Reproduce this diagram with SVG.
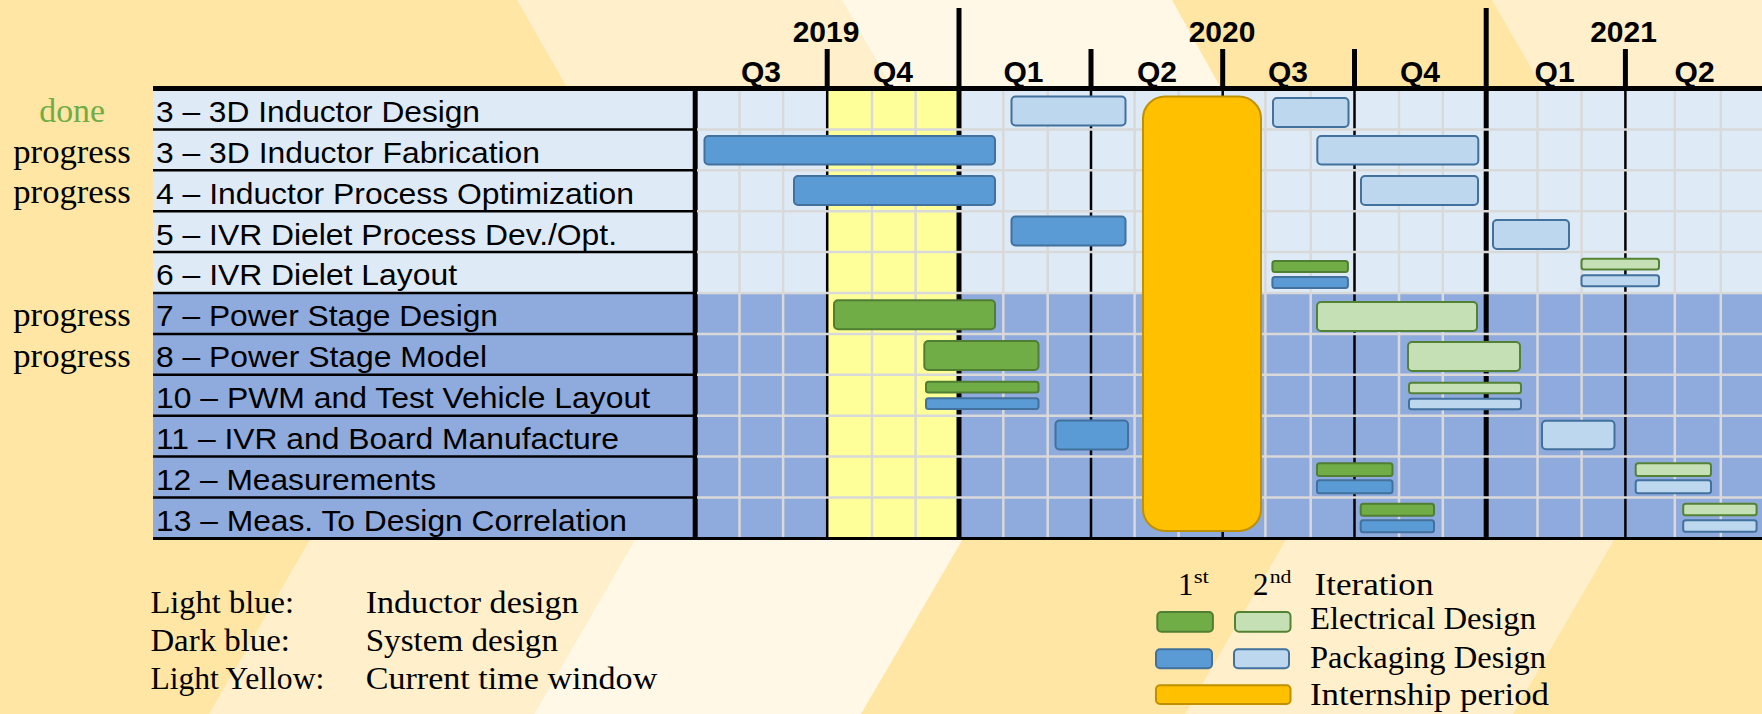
<svg xmlns="http://www.w3.org/2000/svg" width="1762" height="714" viewBox="0 0 1762 714">
<defs>
<style>
.lbl{font-family:"Liberation Sans",Arial,sans-serif;font-size:29px;fill:#000}
.hdr{font-family:"Liberation Sans",Arial,sans-serif;font-weight:bold;font-size:30px;fill:#000;text-anchor:middle}
.st{font-family:"Liberation Serif","Times New Roman",serif;font-size:34px;fill:#000}
.leg{font-family:"Liberation Serif","Times New Roman",serif;font-size:31px;fill:#000}
.b1e{fill:#70AD47;stroke:#507E32;stroke-width:2}
.b2e{fill:#C5E0B4;stroke:#548235;stroke-width:2}
.b1p{fill:#5B9BD5;stroke:#41719C;stroke-width:2}
.b2p{fill:#BDD7EE;stroke:#41719C;stroke-width:2}
.intern{fill:#FFC000;stroke:#BF9000;stroke-width:2}
.gv{stroke:#D9D9D9;stroke-width:2.5}
.gh{stroke:#D9D9D9;stroke-width:2.5}
.bq{stroke:#000;stroke-width:2.5}
.bqh{stroke:#000;stroke-width:5}
.by{stroke:#000;stroke-width:5}
.bs{stroke:#000;stroke-width:2.5}
</style>
</defs>

<g id="background">
<rect x="0" y="0" width="1762" height="714" fill="#FFE6A4"/>
<polygon points="517,0 842,0 894.5,92 534,714 209,714 569.5,92" fill="#FFEFCA"/>
<polygon points="842,0 1172,0 1223,92 861,714 534,714 894.5,92" fill="#FFF8E7"/>
<polygon points="1492,0 1821,0 1874,92 1513,714 1185,714 1545,92" fill="#FFEFCA"/>
</g>

<g id="table-fill">
<rect x="153" y="88.5" width="1609" height="204.5" fill="#DEEBF7"/>
<rect x="153" y="293" width="1609" height="245.4" fill="#8FAADC"/>
<rect x="827.2" y="88.5" width="131.8" height="449.9" fill="#FFFF99"/>
</g>

<g id="grid-lines">
<g class="gv">
<line x1="739.5" y1="90" x2="739.5" y2="538"/>
<line x1="783.1" y1="90" x2="783.1" y2="538"/>
<line x1="872" y1="90" x2="872" y2="538"/>
<line x1="915.6" y1="90" x2="915.6" y2="538"/>
<line x1="1003.3" y1="90" x2="1003.3" y2="538"/>
<line x1="1047.7" y1="90" x2="1047.7" y2="538"/>
<line x1="1134.6" y1="90" x2="1134.6" y2="538"/>
<line x1="1178.6" y1="90" x2="1178.6" y2="538"/>
<line x1="1265.4" y1="90" x2="1265.4" y2="538"/>
<line x1="1310.7" y1="90" x2="1310.7" y2="538"/>
<line x1="1399" y1="90" x2="1399" y2="538"/>
<line x1="1442.8" y1="90" x2="1442.8" y2="538"/>
<line x1="1537.5" y1="90" x2="1537.5" y2="538"/>
<line x1="1581.6" y1="90" x2="1581.6" y2="538"/>
<line x1="1674.8" y1="90" x2="1674.8" y2="538"/>
<line x1="1720.8" y1="90" x2="1720.8" y2="538"/>
</g>
<g class="bq">
<line x1="827.2" y1="88" x2="827.2" y2="538"/>
<line x1="1091" y1="88" x2="1091" y2="538"/>
<line x1="1222.7" y1="88" x2="1222.7" y2="538"/>
<line x1="1354.5" y1="88" x2="1354.5" y2="538"/>
<line x1="1625.4" y1="88" x2="1625.4" y2="538"/>
</g>
<g class="bqh">
<line x1="827.2" y1="49" x2="827.2" y2="89"/>
<line x1="1091" y1="49" x2="1091" y2="89"/>
<line x1="1222.7" y1="49" x2="1222.7" y2="89"/>
<line x1="1354.5" y1="49" x2="1354.5" y2="89"/>
<line x1="1625.4" y1="49" x2="1625.4" y2="89"/>
</g>
<g class="by">
<line x1="959" y1="8" x2="959" y2="539"/>
<line x1="1486.2" y1="8" x2="1486.2" y2="539"/>
<line x1="695.2" y1="86" x2="695.2" y2="540"/>
</g>
<g class="gh">
<line x1="697" y1="129.4" x2="1762" y2="129.4"/>
<line x1="697" y1="170.3" x2="1762" y2="170.3"/>
<line x1="697" y1="211.2" x2="1762" y2="211.2"/>
<line x1="697" y1="252.1" x2="1762" y2="252.1"/>
<line x1="697" y1="293" x2="1762" y2="293"/>
<line x1="697" y1="333.9" x2="1762" y2="333.9"/>
<line x1="697" y1="374.8" x2="1762" y2="374.8"/>
<line x1="697" y1="415.7" x2="1762" y2="415.7"/>
<line x1="697" y1="456.6" x2="1762" y2="456.6"/>
<line x1="697" y1="497.5" x2="1762" y2="497.5"/>
</g>
<g class="bs">
<line x1="153" y1="129.4" x2="694" y2="129.4"/>
<line x1="153" y1="170.3" x2="694" y2="170.3"/>
<line x1="153" y1="211.2" x2="694" y2="211.2"/>
<line x1="153" y1="252.1" x2="694" y2="252.1"/>
<line x1="153" y1="293" x2="694" y2="293"/>
<line x1="153" y1="333.9" x2="694" y2="333.9"/>
<line x1="153" y1="374.8" x2="694" y2="374.8"/>
<line x1="153" y1="415.7" x2="694" y2="415.7"/>
<line x1="153" y1="456.6" x2="694" y2="456.6"/>
<line x1="153" y1="497.5" x2="694" y2="497.5"/>
</g>
<rect x="153" y="86" width="1609" height="5" fill="#000"/>
<rect x="153" y="537" width="1609" height="3" fill="#000"/>
</g>

<g id="header">
<text class="hdr" x="826" y="41.7">2019</text>
<text class="hdr" x="1222" y="41.7">2020</text>
<text class="hdr" x="1623.5" y="41.7">2021</text>
<text class="hdr" x="761" y="81.7">Q3</text>
<text class="hdr" x="893" y="81.7">Q4</text>
<text class="hdr" x="1023.4" y="81.7">Q1</text>
<text class="hdr" x="1157" y="81.7">Q2</text>
<text class="hdr" x="1288" y="81.7">Q3</text>
<text class="hdr" x="1420" y="81.7">Q4</text>
<text class="hdr" x="1554.6" y="81.7">Q1</text>
<text class="hdr" x="1694.6" y="81.7">Q2</text>
</g>

<g id="internship">
<rect class="intern" x="1143" y="96.5" width="118" height="434.5" rx="22"/>
</g>

<g id="row-1">
<text class="st" x="39.3" y="122.3" textLength="65.7" lengthAdjust="spacingAndGlyphs" fill="#70AD47" style="fill:#70AD47">done</text>
<text class="lbl" x="156" y="121.7" textLength="324" lengthAdjust="spacingAndGlyphs">3 – 3D Inductor Design</text>
<rect class="b2p" x="1011.5" y="96.5" width="114" height="29" rx="4"/>
<rect class="b2p" x="1273" y="98" width="75.5" height="29" rx="4"/>
</g>

<g id="row-2">
<text class="st" x="13.3" y="163.3" textLength="117.4" lengthAdjust="spacingAndGlyphs">progress</text>
<text class="lbl" x="156" y="162.5" textLength="384" lengthAdjust="spacingAndGlyphs">3 – 3D Inductor Fabrication</text>
<rect class="b1p" x="704.5" y="136" width="290.5" height="28.5" rx="4"/>
<rect class="b2p" x="1317.3" y="136" width="161" height="28.5" rx="4"/>
</g>

<g id="row-3">
<text class="st" x="13.3" y="203" textLength="117.4" lengthAdjust="spacingAndGlyphs">progress</text>
<text class="lbl" x="156" y="203.6" textLength="478" lengthAdjust="spacingAndGlyphs">4 – Inductor Process Optimization</text>
<rect class="b1p" x="794" y="176" width="201" height="29" rx="4"/>
<rect class="b2p" x="1361" y="176" width="117" height="29" rx="4"/>
</g>

<g id="row-4">
<text class="lbl" x="156" y="244.5" textLength="461" lengthAdjust="spacingAndGlyphs">5 – IVR Dielet Process Dev./Opt.</text>
<rect class="b1p" x="1011.5" y="216.5" width="114" height="29" rx="4"/>
<rect class="b2p" x="1493" y="220" width="76" height="29" rx="4"/>
</g>

<g id="row-5">
<text class="lbl" x="156" y="285.4" textLength="301" lengthAdjust="spacingAndGlyphs">6 – IVR Dielet Layout</text>
<rect class="b1e" x="1272.4" y="261" width="75.5" height="11" rx="2.5"/>
<rect class="b1p" x="1272.4" y="277" width="75.5" height="11" rx="2.5"/>
<rect class="b2e" x="1581.5" y="258.7" width="77.5" height="10.8" rx="2.5"/>
<rect class="b2p" x="1581.5" y="275.3" width="77.5" height="11" rx="2.5"/>
</g>

<g id="row-6">
<text class="st" x="13.3" y="325.7" textLength="117.4" lengthAdjust="spacingAndGlyphs">progress</text>
<text class="lbl" x="156" y="326.3" textLength="342" lengthAdjust="spacingAndGlyphs">7 – Power Stage Design</text>
<rect class="b1e" x="834" y="300.3" width="161" height="29" rx="4"/>
<rect class="b2e" x="1317" y="302" width="160" height="29" rx="4"/>
</g>

<g id="row-7">
<text class="st" x="13.3" y="367.3" textLength="117.4" lengthAdjust="spacingAndGlyphs">progress</text>
<text class="lbl" x="156" y="367.2" textLength="331" lengthAdjust="spacingAndGlyphs">8 – Power Stage Model</text>
<rect class="b1e" x="924.3" y="341" width="114.2" height="29" rx="4"/>
<rect class="b2e" x="1408" y="342" width="112" height="29" rx="4"/>
</g>

<g id="row-8">
<text class="lbl" x="156" y="408.1" textLength="494" lengthAdjust="spacingAndGlyphs">10 – PWM and Test Vehicle Layout</text>
<rect class="b1e" x="926" y="381.7" width="112.5" height="10.8" rx="2.5"/>
<rect class="b1p" x="926" y="398.3" width="112.5" height="10.8" rx="2.5"/>
<rect class="b2e" x="1409" y="382.7" width="112" height="10.6" rx="2.5"/>
<rect class="b2p" x="1409" y="398.7" width="112" height="10.6" rx="2.5"/>
</g>

<g id="row-9">
<text class="lbl" x="156" y="449" textLength="463" lengthAdjust="spacingAndGlyphs">11 – IVR and Board Manufacture</text>
<rect class="b1p" x="1055.5" y="420.5" width="72.5" height="29" rx="4"/>
<rect class="b2p" x="1542" y="420.7" width="72.5" height="28.5" rx="4"/>
</g>

<g id="row-10">
<text class="lbl" x="156" y="489.9" textLength="280" lengthAdjust="spacingAndGlyphs">12 – Measurements</text>
<rect class="b1e" x="1317" y="463.3" width="75.5" height="12.7" rx="2.5"/>
<rect class="b1p" x="1317" y="480.3" width="75.5" height="13" rx="2.5"/>
<rect class="b2e" x="1635.7" y="463.3" width="75.3" height="12.7" rx="2.5"/>
<rect class="b2p" x="1635.7" y="480.3" width="75.3" height="13" rx="2.5"/>
</g>

<g id="row-11">
<text class="lbl" x="156" y="530.8" textLength="471" lengthAdjust="spacingAndGlyphs">13 – Meas. To Design Correlation</text>
<rect class="b1e" x="1360.7" y="503.7" width="73.3" height="12" rx="2.5"/>
<rect class="b1p" x="1360.7" y="520.3" width="73.3" height="12" rx="2.5"/>
<rect class="b2e" x="1683.2" y="503.7" width="73.4" height="11.5" rx="2.5"/>
<rect class="b2p" x="1683.2" y="520.3" width="73.4" height="11.5" rx="2.5"/>
</g>

<g id="legend-colors">
<text class="leg" x="150.4" y="612.7" textLength="143.6" lengthAdjust="spacingAndGlyphs">Light blue:</text>
<text class="leg" x="365.7" y="612.7" textLength="212.9" lengthAdjust="spacingAndGlyphs">Inductor design</text>
<text class="leg" x="150.4" y="651" textLength="139.6" lengthAdjust="spacingAndGlyphs">Dark blue:</text>
<text class="leg" x="365.7" y="651" textLength="192.3" lengthAdjust="spacingAndGlyphs">System design</text>
<text class="leg" x="150.4" y="689" textLength="173.9" lengthAdjust="spacingAndGlyphs">Light Yellow:</text>
<text class="leg" x="365.7" y="689" textLength="291.6" lengthAdjust="spacingAndGlyphs">Current time window</text>
</g>

<g id="legend-bars">
<text class="leg" x="1178" y="595">1</text>
<text class="leg" x="1193.7" y="583" style="font-size:19px" textLength="15.3" lengthAdjust="spacingAndGlyphs">st</text>
<text class="leg" x="1253" y="595">2</text>
<text class="leg" x="1269.7" y="583" style="font-size:19px" textLength="21.8" lengthAdjust="spacingAndGlyphs">nd</text>
<text class="leg" x="1314.5" y="595" textLength="119" lengthAdjust="spacingAndGlyphs">Iteration</text>
<rect class="b1e" x="1157.3" y="612" width="55.6" height="19.7" rx="4"/>
<rect class="b2e" x="1235" y="612" width="55.5" height="19.7" rx="4"/>
<text class="leg" x="1310" y="629.3" textLength="226" lengthAdjust="spacingAndGlyphs">Electrical Design</text>
<rect class="b1p" x="1156" y="649.3" width="56" height="19" rx="4"/>
<rect class="b2p" x="1234" y="649.3" width="55" height="19" rx="4"/>
<text class="leg" x="1310" y="667.5" textLength="236" lengthAdjust="spacingAndGlyphs">Packaging Design</text>
<rect class="intern" x="1156" y="685.3" width="134.5" height="18.7" rx="4"/>
<text class="leg" x="1310" y="704.5" textLength="239" lengthAdjust="spacingAndGlyphs">Internship period</text>
</g>
</svg>
